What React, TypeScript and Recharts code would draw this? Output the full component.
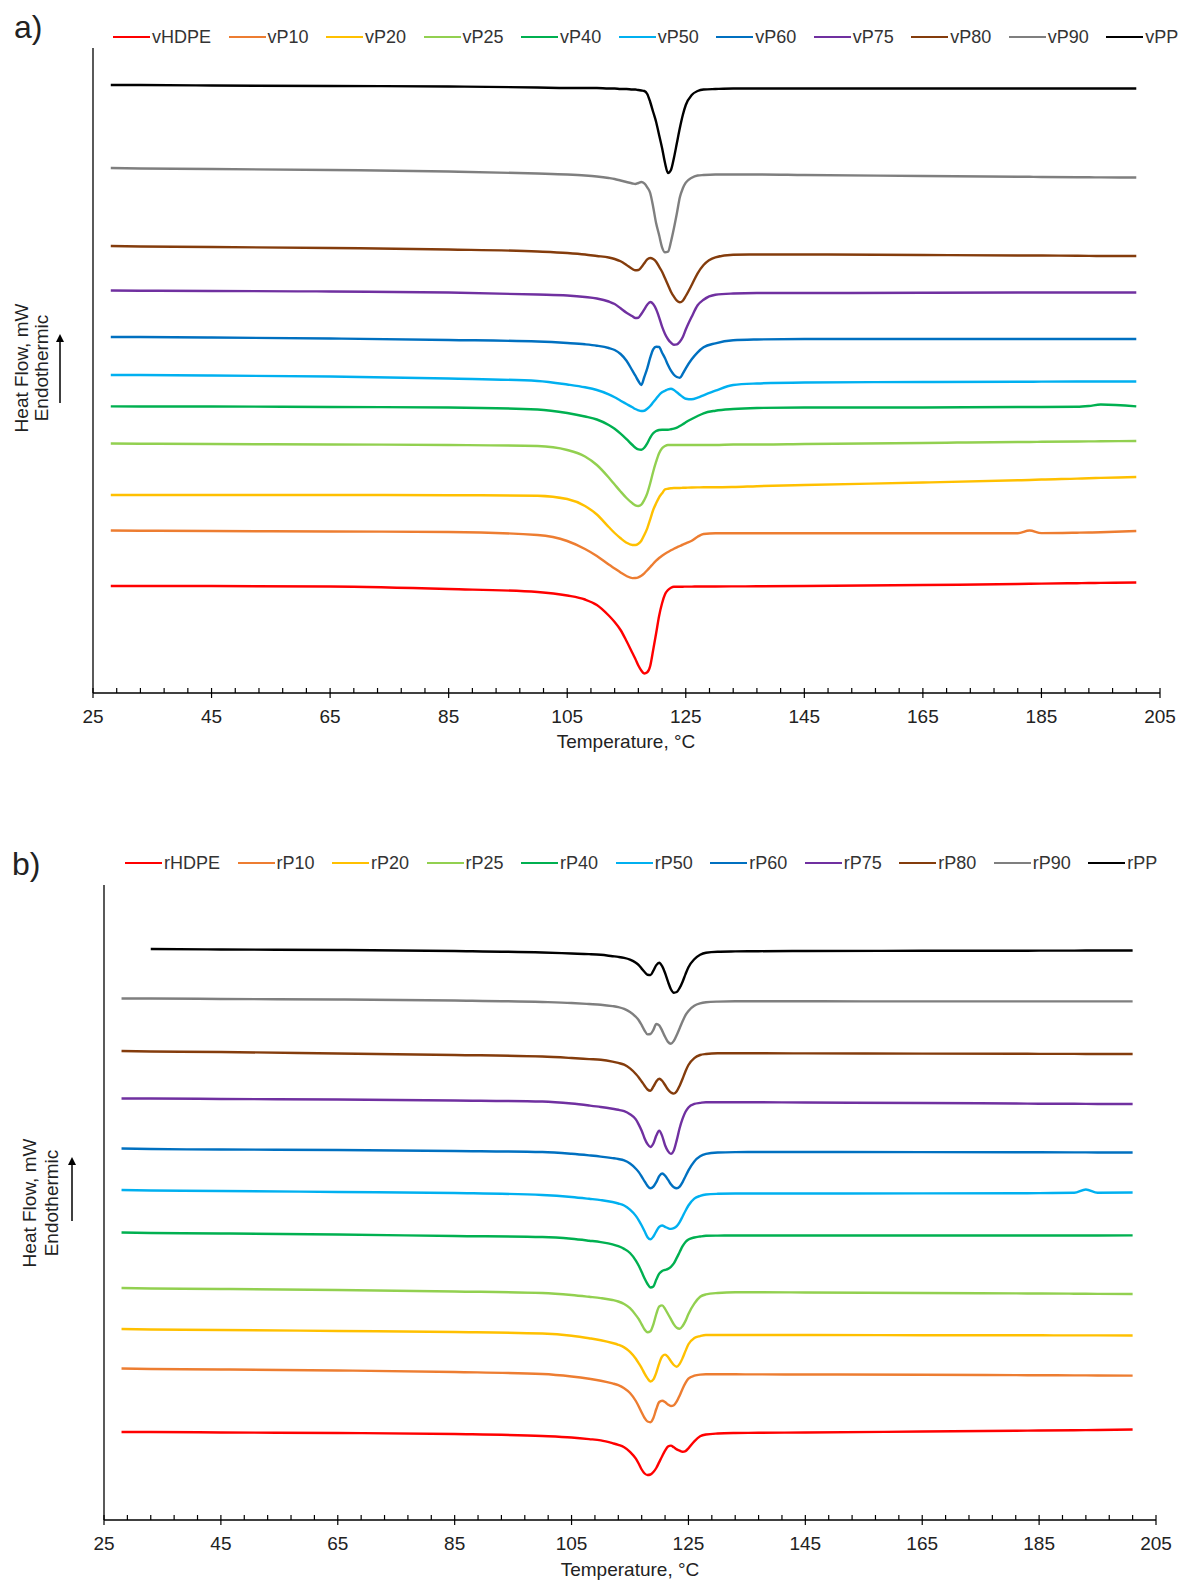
import React from "react";
import { LineChart, Line, XAxis, YAxis, ReferenceLine } from "recharts";

const FONT = '"Liberation Sans", Arial, Helvetica, sans-serif';

// temperature grid, °C (denser around the melting peaks)
const temps = [
  28, 33, 45, 65, 85,
  100, 105, 108, 110,
  112, 113, 114, 115,
  116, 116.5, 117, 117.5, 118,
  118.5, 119, 119.5, 120, 120.5,
  121, 121.5, 122, 122.5, 123,
  123.5, 124, 124.5, 125,
  126, 127, 128, 130, 133,
  137, 145, 165, 181,
  183, 185, 191, 193, 195, 201,
];

// heat flow, arbitrary offset units (endo up)
// --- panel a: virgin blends
const vHDPE = [107, 107, 107, 106.5, 104, 101, 97.5, 93.5, 88, 77.5, 71, 63, 52, 40, 34, 27.5, 22.5, 19.5, 20.7, 27, 43, 59.7, 77, 89.7, 98.7, 103, 105.3, 106.3, 106.3, 106.3, 106.3, 106.4, 106.4, 106.5, 106.5, 106.5, 106.6, 106.7, 107, 108, 109, 109.2, 109.4, 109.8, 110, 110.1, 110.5];
const vP10 = [162.5, 162.3, 162, 161.5, 161, 158, 152, 144, 137, 128.5, 124.5, 120.5, 117, 114.9, 115, 115.7, 117.3, 119.7, 122.7, 126, 129.3, 132.3, 135, 137.3, 139.3, 141, 142.7, 144.3, 145.7, 147, 148.3, 149.7, 152.3, 156.3, 159, 159.7, 159.7, 159.7, 159.7, 159.7, 159.8, 162.5, 159.9, 160.3, 160.5, 160.8, 162];
const vP20 = [198, 198, 198, 198, 197.8, 197.3, 194, 187, 178.5, 166, 160, 154.8, 150.3, 148, 148, 149.3, 152.3, 158, 164.7, 173.7, 183, 189.7, 195.7, 199.7, 203.7, 204.3, 204.7, 205, 205, 205, 205.2, 205.3, 205.5, 205.6, 205.7, 205.7, 206, 206.8, 208, 210.5, 212.7, 213, 213.5, 214.4, 214.8, 215.1, 216];
const vP25 = [249.5, 249.3, 249, 248.5, 248, 247, 243, 236.5, 228, 215.5, 208.5, 201.5, 195, 189.7, 187.7, 187, 188.3, 193, 199.7, 209.7, 221.3, 231.3, 239.7, 244.7, 247, 248, 248, 248, 248, 248, 248, 248, 248, 248, 248, 248, 248.5, 248.5, 249, 250, 251, 251, 251.2, 251.5, 251.6, 251.7, 252];
const vP40 = [286.6, 286.5, 286.5, 286, 285.5, 283.5, 280, 276.5, 273.5, 268, 264.2, 259.3, 253.8, 248, 245.3, 243.7, 243.3, 245.3, 249.7, 255.3, 259.7, 262, 263, 263.3, 263.3, 263.3, 263.7, 264.3, 265.3, 267, 268.7, 270.7, 274, 277, 279.7, 282.3, 284, 285, 285.5, 285.5, 286, 286, 286, 286.2, 287, 288.5, 286.6];
const vP50 = [318, 318, 317.5, 316.5, 314.5, 312, 308.5, 305.7, 303, 298.7, 295.7, 292.3, 289, 285.7, 284, 282.7, 282, 282.3, 284.3, 287, 290.7, 294.3, 298, 300.7, 302.3, 303.7, 304.3, 303, 300.7, 298.3, 296, 294.3, 293.7, 295.3, 297.7, 302.3, 308, 309.5, 310.5, 311, 311.3, 311.3, 311.4, 311.5, 311.5, 311.5, 311.5];
const vP60 = [356, 356, 355.5, 354.5, 353, 351.5, 350, 348.7, 347.3, 345, 343, 339, 332.3, 322.3, 317.3, 312, 308, 316, 324.7, 335.3, 343.7, 346.3, 346, 340.3, 334.7, 328, 322.3, 318.3, 316, 315.3, 319.3, 324.7, 333.7, 340.7, 345.7, 349.7, 352.7, 353.5, 354, 354, 354, 354, 354, 354, 354, 354, 354];
const vP75 = [402.5, 402.3, 402, 401.5, 400.5, 398.5, 397.5, 396, 394.5, 391.5, 389, 384.7, 380.3, 376.7, 375, 375.3, 379, 383.7, 388.3, 391, 389, 383.7, 375.7, 366.3, 359, 353.7, 350.3, 348.3, 348.7, 351.3, 356, 363.5, 376.3, 387.7, 393.3, 398.3, 399.5, 400, 400, 400.3, 400.5, 400.5, 400.5, 400.5, 400.5, 400.5, 400.5];
const vP80 = [447, 446.5, 446, 445, 443.5, 441.5, 440, 438.5, 437, 435.5, 434, 431.7, 428, 424, 422.7, 423, 425.7, 429.7, 433.7, 435, 434, 431.3, 426.3, 421.3, 414.7, 408, 401.3, 396.3, 392.3, 390.7, 392.3, 397, 408, 419.7, 428, 435.7, 438.3, 438.5, 438.5, 438, 437.5, 437.5, 437.5, 437.2, 437.1, 437, 437];
const vP90 = [525, 524.5, 524, 523, 521.5, 519.5, 518.5, 517.5, 516.5, 515, 514, 512.5, 511, 509.5, 509, 510, 511, 509.7, 505.7, 500, 486, 469.7, 458, 445.7, 440.7, 441.3, 451.3, 464.7, 479.7, 495.7, 504.7, 510.3, 515.3, 517.5, 518, 518.5, 518.5, 518.5, 518, 517, 516.3, 516.2, 516, 515.8, 515.7, 515.6, 515.5];
const vPP = [608, 608, 607.5, 607, 606.5, 605.5, 605, 605, 605, 604.5, 604.5, 604, 604, 603.5, 603.5, 603, 602.5, 602, 599, 591, 581, 571, 558, 545, 530, 520, 523, 535, 550, 565, 578, 588, 598, 602, 603.5, 604, 604.5, 604.5, 604.5, 604.5, 604.5, 604.5, 604.5, 604.5, 604.5, 604.5, 604.5];

// --- panel b: recycled blends
const rHDPE = [88, 88, 87.5, 87, 86, 84, 82.5, 80.9, 79.6, 76.8, 75.1, 72.7, 68.2, 61.3, 56.2, 50.5, 46.5, 45, 45.5, 48, 52, 57.9, 63.8, 69.3, 73.4, 74.4, 72.7, 70.6, 69.3, 68.2, 68.9, 71.7, 78.6, 83.7, 85.5, 86.5, 87, 87.2, 87.5, 88.5, 89.3, 89.4, 89.5, 89.8, 89.9, 90, 90.5];
const rP10 = [151.5, 151, 150.5, 149.5, 148, 146, 143.5, 141.2, 139.3, 136.6, 134.8, 131.8, 127, 119, 113.5, 107.5, 102, 98.5, 97.8, 102, 111, 118, 119.3, 118, 115.5, 114, 114.8, 118.6, 124.6, 131.3, 137.1, 141.3, 144.3, 145.4, 145.7, 145.7, 145.7, 145.6, 145.5, 145.2, 144.9, 144.8, 144.8, 144.6, 144.6, 144.5, 144.4];
const rP20 = [191, 190.5, 190, 189, 188, 186.5, 184.3, 181.8, 179.8, 177, 175.2, 172.6, 168.1, 161.2, 156.7, 151.9, 146.4, 141.6, 138.5, 140.6, 147.4, 156.7, 163.6, 165.4, 163, 158.8, 155, 153.3, 156.1, 161.9, 169.1, 175.7, 181.9, 183.9, 185, 185, 185, 185, 185, 184.8, 184.7, 184.7, 184.7, 184.6, 184.6, 184.6, 184.5];
const rP25 = [232, 231.5, 231, 230, 228.5, 227, 225, 223.2, 221.9, 220, 218.5, 216, 211.8, 204.9, 200.8, 195.7, 190.5, 187.8, 188.8, 195.7, 206, 213.6, 214.6, 211.2, 206, 200.8, 195.7, 192.2, 191.2, 194, 199.1, 206, 216.3, 223.2, 225.6, 227, 227.7, 227.7, 227.5, 227, 226.6, 226.5, 226.5, 226.3, 226.2, 226.1, 226];
const rP40 = [287.5, 287, 286.5, 285.5, 284, 283, 281.2, 279.3, 277.9, 275.7, 273.8, 271.1, 267, 259.4, 254.2, 248, 241.5, 236, 232.5, 233.5, 240.4, 246.3, 249, 250.1, 251.1, 253.2, 256.6, 262.1, 268, 273.8, 278, 280.4, 282.5, 283.5, 284.2, 284.4, 284.5, 284.5, 284.5, 284.5, 284.5, 284.5, 284.5, 284.5, 284.5, 284.5, 284.6];
const rP50 = [330, 329.5, 329, 328, 327, 325, 323, 321.2, 319.9, 318, 316.5, 314.5, 310.3, 304.1, 299.7, 294.5, 288.7, 282.8, 280.7, 283.5, 288.7, 293.1, 294.5, 293.1, 291.8, 291.1, 291.8, 293.8, 297.9, 303.5, 309.3, 314.5, 321.4, 324.1, 325.5, 326.2, 326.5, 326.5, 326.5, 326.6, 326.8, 326.8, 326.9, 327.2, 330.5, 327.3, 327.5];
const rP60 = [371.5, 371, 370.5, 370, 369, 368, 366.2, 364.6, 363.4, 361.9, 361, 359.6, 356.5, 351.3, 347.9, 343.4, 338.6, 334.1, 331.7, 333.4, 337.9, 343.8, 346.5, 344.4, 340.3, 335.8, 332.7, 331.7, 333.4, 337.9, 343.8, 349.6, 358.6, 363.7, 366.1, 367.5, 367.9, 368, 368, 367.9, 367.8, 367.8, 367.7, 367.6, 367.6, 367.5, 367.5];
const rP75 = [421.5, 421.5, 421, 420.5, 419.5, 418.5, 416.5, 414.5, 413, 411.2, 410.2, 408.8, 405.7, 400.6, 395.4, 389.2, 381.6, 375.8, 373, 376.5, 384.4, 389.2, 384.1, 374.8, 368.9, 366.1, 369.6, 379.9, 392, 401.3, 408.2, 412.6, 416.1, 417.1, 417.8, 417.8, 417.8, 417.7, 417.5, 417, 416.5, 416.4, 416.3, 416.2, 416.1, 416, 416];
const rP80 = [469, 468.5, 468, 466.5, 465, 463.5, 462, 460.9, 460.2, 458.4, 457.1, 455.3, 451.6, 446, 442.6, 438.5, 434.3, 430.5, 429.2, 433.3, 438.5, 441.2, 439.2, 435, 430.5, 427.4, 426.4, 428.8, 434.3, 441.2, 448.8, 455, 461.9, 465, 466, 466.7, 466.7, 466.7, 466.6, 466.4, 466.2, 466.2, 466.1, 466.1, 466, 466, 466];
const rP90 = [521.5, 521.5, 521, 520.5, 519.5, 518, 517, 516, 515.3, 513.9, 512.9, 511.1, 508, 503.2, 499.8, 494.9, 489.4, 485.6, 486, 490.1, 496, 494.6, 489.4, 483.2, 478.1, 476.3, 479.1, 485, 491.8, 498.7, 504.9, 509.1, 514.2, 516.6, 517.7, 518.4, 518.7, 518.7, 518.7, 518.6, 518.6, 518.6, 518.6, 518.6, 518.6, 518.6, 518.6];
const rPP = [null, 571, 570.5, 570, 569, 567.5, 566.5, 565.9, 565.2, 563.8, 563.1, 562.1, 560.4, 557.3, 554.9, 551.4, 548, 545.2, 544.9, 549.4, 554.9, 557.3, 553.8, 547, 538.3, 530.8, 527.3, 528, 532.1, 538.3, 545.9, 552.8, 560.7, 565.2, 567.3, 568.3, 568.6, 568.8, 569, 569.2, 569.3, 569.3, 569.4, 569.4, 569.5, 569.5, 569.5];

const colors = ["#FF0000", "#ED7D31", "#FFC000", "#92D050", "#00B050", "#00B0F0", "#0070C0", "#7030A0", "#843C0C", "#7F7F7F", "#000000"];
const namesA = ["vHDPE", "vP10", "vP20", "vP25", "vP40", "vP50", "vP60", "vP75", "vP80", "vP90", "vPP"];
const namesB = ["rHDPE", "rP10", "rP20", "rP25", "rP40", "rP50", "rP60", "rP75", "rP80", "rP90", "rPP"];
const valuesA = [vHDPE, vP10, vP20, vP25, vP40, vP50, vP60, vP75, vP80, vP90, vPP];
const valuesB = [rHDPE, rP10, rP20, rP25, rP40, rP50, rP60, rP75, rP80, rP90, rPP];

const xTicks: number[] = [];
for (let t = 25; t <= 205; t += 4) xTicks.push(t);

function buildRows(names: string[], values: (number | null)[][]) {
  return temps.map((T, i) => {
    const row: Record<string, number | null> = { T };
    names.forEach((n, k) => (row[n] = values[k][i]));
    return row;
  });
}

const rowsA = buildRows(namesA, valuesA);
const rowsB = buildRows(namesB, valuesB);

function TempTick(props: any) {
  const { x, y, payload } = props;
  const v = payload.value;
  const major = (v - 25) % 20 === 0;
  return (
    <g>
      <line x1={x} x2={x} y1={y - 5} y2={major ? y + 5 : y} stroke="#000" strokeWidth={1.2} />
      {major && (
        <text x={x} y={y + 30} textAnchor="middle" fontSize={19} fontFamily={FONT} fill="#222">
          {v}
        </text>
      )}
    </g>
  );
}

function Legend({ names, left, top }: { names: string[]; left: number; top: number }) {
  return (
    <div style={{ position: "absolute", left, top, height: 20, display: "flex", alignItems: "center", fontFamily: FONT }}>
      {names.map((n, i) => (
        <div key={n} style={{ display: "flex", alignItems: "center", marginRight: 17.5 }}>
          <div style={{ width: 37, height: 2.5, background: colors[i], marginRight: 2 }} />
          <span style={{ fontSize: 18, color: "#333" }}>{n}</span>
        </div>
      ))}
    </div>
  );
}

function YTitle({ x1, x2, ax, cy, ay1, ay2 }: { x1: number; x2: number; ax: number; cy: number; ay1: number; ay2: number }) {
  const rot: React.CSSProperties = {
    position: "absolute",
    transform: "translate(-50%, -50%) rotate(-90deg)",
    whiteSpace: "nowrap",
    fontSize: 19,
    color: "#222",
    fontFamily: FONT,
  };
  return (
    <>
      <div style={{ ...rot, left: x1, top: cy }}>Heat Flow, mW</div>
      <div style={{ ...rot, left: x2, top: cy }}>Endothermic</div>
      <svg style={{ position: "absolute", left: ax - 6, top: ay1 - 2 }} width={12} height={ay2 - ay1 + 4}>
        <line x1={6} x2={6} y1={8} y2={ay2 - ay1 + 2} stroke="#000" strokeWidth={1.5} />
        <polygon points="2,10 6,2 10,10" fill="#000" />
      </svg>
    </>
  );
}

function Panel({ rows, names, width, height, margin, xAxisHeight, yMax }: any) {
  return (
    <LineChart width={width} height={height} data={rows} margin={margin}>
      <XAxis
        type="number"
        dataKey="T"
        domain={[25, 205]}
        ticks={xTicks}
        interval={0}
        tick={<TempTick />}
        tickLine={false}
        tickSize={0}
        tickMargin={0}
        height={xAxisHeight}
        axisLine={{ stroke: "#000", strokeWidth: 1.3 }}
        allowDataOverflow
      />
      <YAxis hide type="number" domain={[0, yMax]} allowDataOverflow />
      <ReferenceLine x={25} stroke="#000" strokeWidth={1.3} />
      {names.map((n: string, i: number) => (
        <Line
          key={n}
          type="monotone"
          dataKey={n}
          stroke={colors[i]}
          strokeWidth={2.4}
          dot={false}
          isAnimationActive={false}
        />
      ))}
    </LineChart>
  );
}

const title: React.CSSProperties = {
  position: "absolute",
  transform: "translate(-50%, -50%)",
  whiteSpace: "nowrap",
  fontSize: 19,
  color: "#222",
  fontFamily: FONT,
};

export default function App() {
  return (
    <div style={{ position: "absolute", left: 0, top: 0, width: 1180, height: 1582, background: "#fff", overflow: "hidden" }}>
      <div style={{ position: "absolute", left: 0, top: 0 }}>
        <Panel rows={rowsA} names={namesA} width={1180} height={760} margin={{ top: 48, right: 20, bottom: 0, left: 93 }} xAxisHeight={67} yMax={645} />
      </div>
      <div style={{ position: "absolute", left: 0, top: 800 }}>
        <Panel rows={rowsB} names={namesB} width={1180} height={782} margin={{ top: 85, right: 24, bottom: 0, left: 104 }} xAxisHeight={62} yMax={635} />
      </div>

      <div style={{ position: "absolute", left: 14, top: 9, fontSize: 32, fontFamily: FONT, color: "#222" }}>a)</div>
      <div style={{ position: "absolute", left: 12, top: 846, fontSize: 32, fontFamily: FONT, color: "#222" }}>b)</div>

      <Legend names={namesA} left={113} top={27} />
      <Legend names={namesB} left={125} top={853} />

      <YTitle x1={22} x2={42} ax={60} cy={368} ay1={334} ay2={403} />
      <YTitle x1={30} x2={52} ax={72} cy={1203} ay1={1157} ay2={1221} />

      <div style={{ ...title, left: 626, top: 742 }}>Temperature, °C</div>
      <div style={{ ...title, left: 630, top: 1570 }}>Temperature, °C</div>
    </div>
  );
}
